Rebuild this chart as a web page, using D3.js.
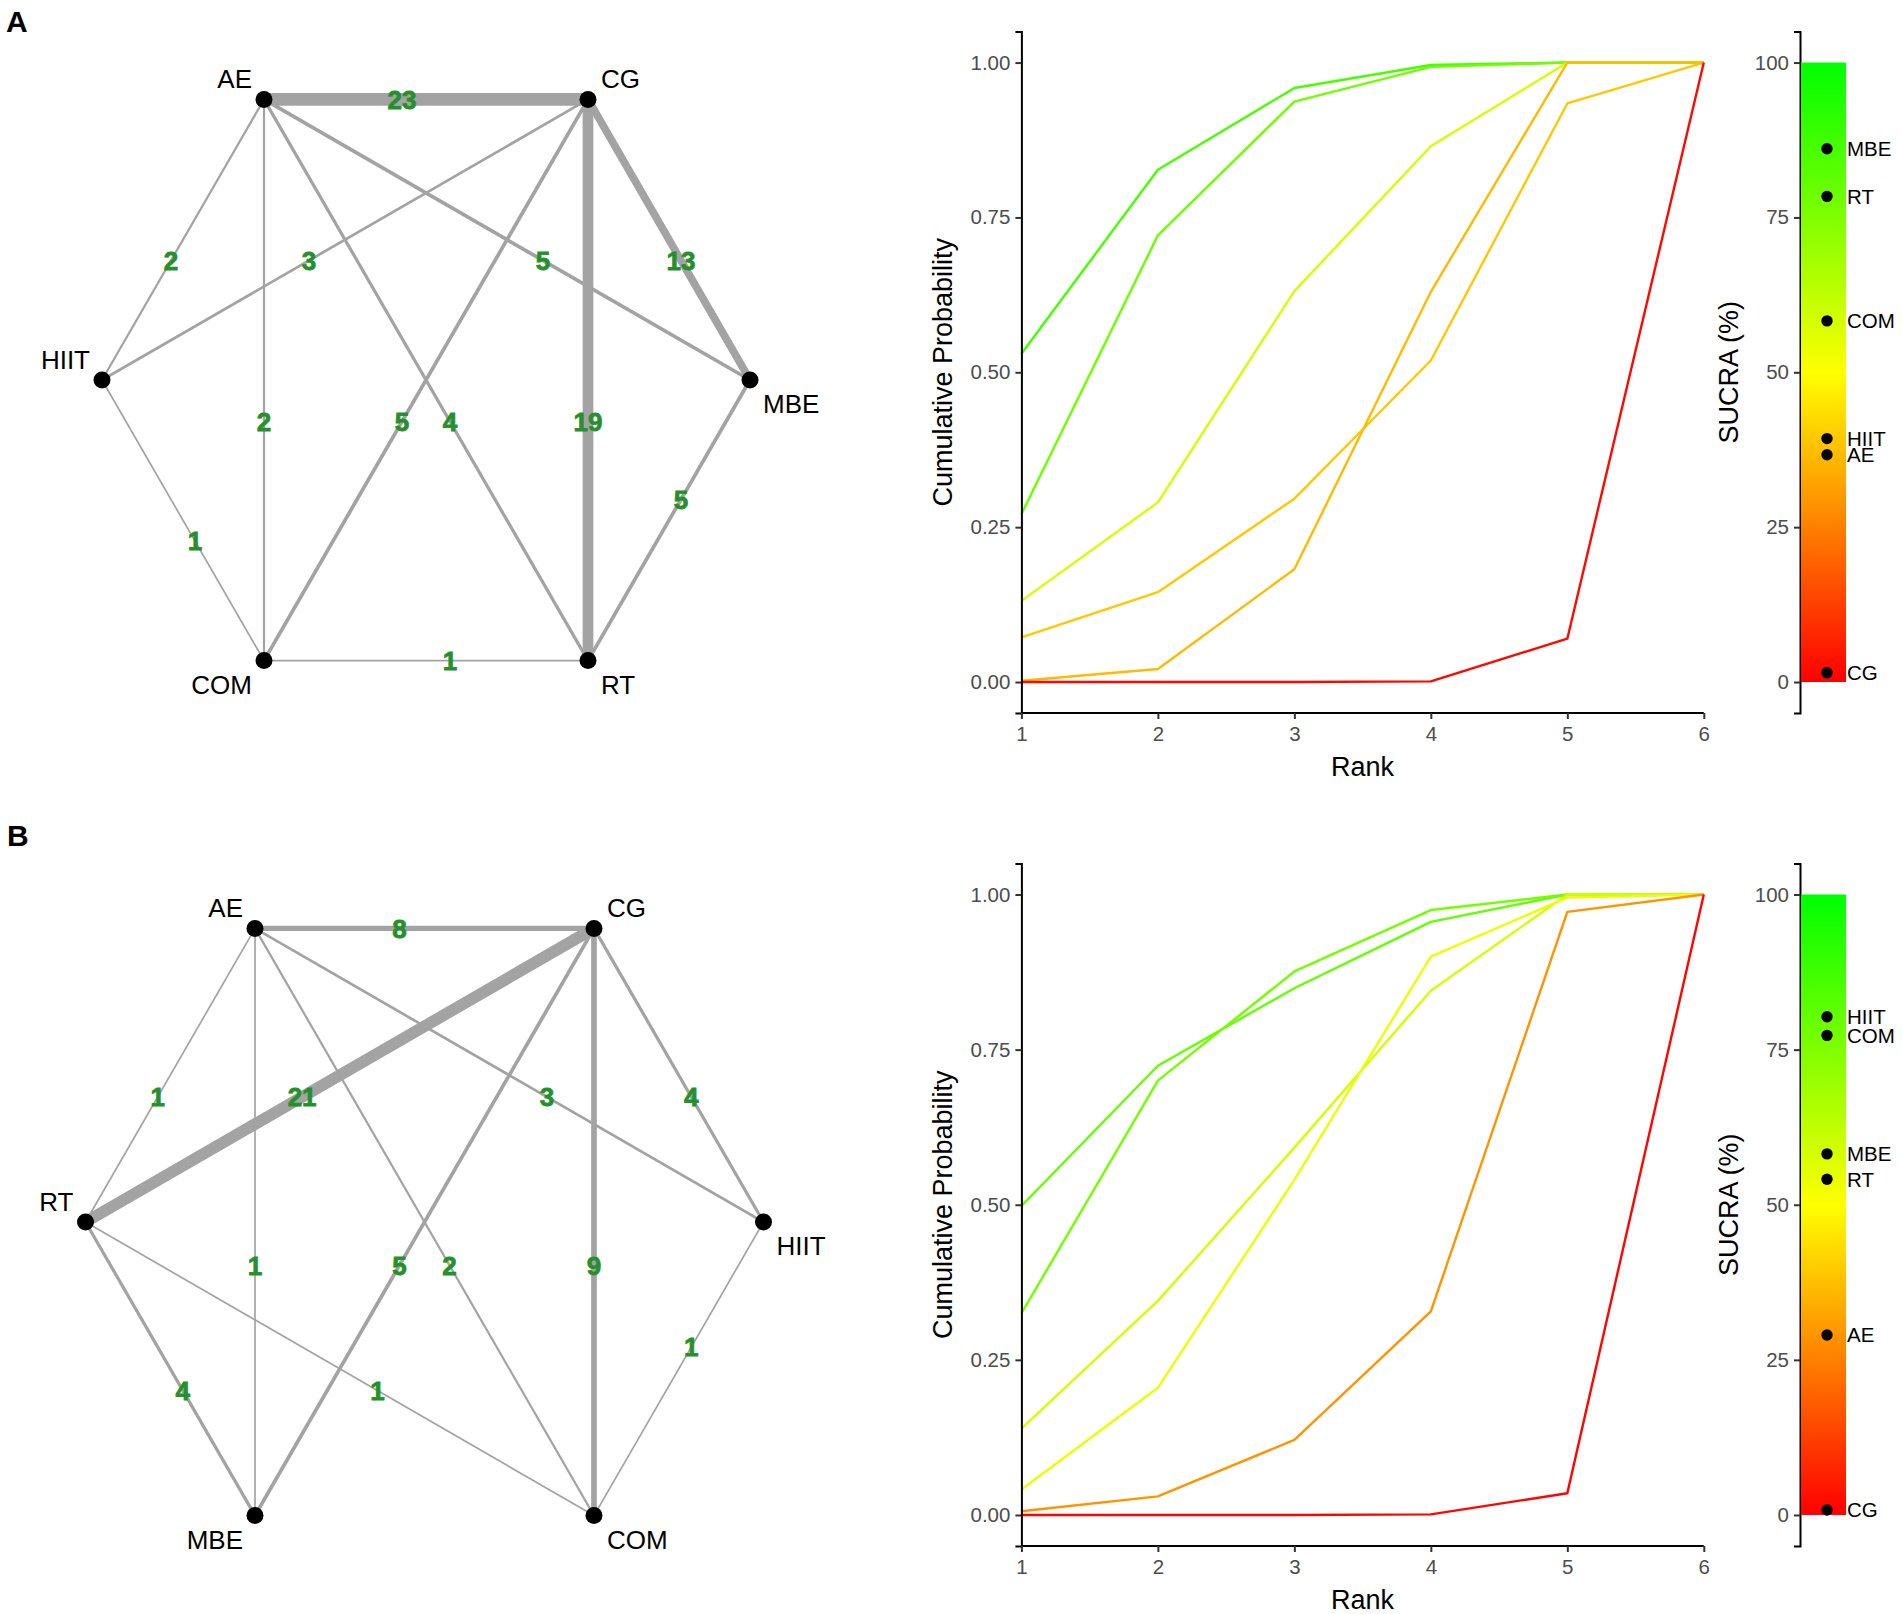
<!DOCTYPE html>
<html>
<head>
<meta charset="utf-8">
<script src="https://cdn.jsdelivr.net/npm/d3@7"></script>
<style>
  body { margin: 0; background: #fff; }
  svg { display: block; font-family: "Liberation Sans", Arial, Helvetica, sans-serif; }
</style>
</head>
<body>
<div id="chart"></div>
<script>
// ---- data ----
const ranks = [1, 2, 3, 4, 5, 6];
const probTicks = [0, 0.25, 0.5, 0.75, 1];
const sucraTicks = [0, 25, 50, 75, 100];

// panel A network (nodes listed clockwise from the top-left corner)
const nodesA = ["AE", "CG", "MBE", "RT", "COM", "HIIT"];
const edgesA = [["CG", "AE"], ["AE", "HIIT"], ["CG", "HIIT"], ["AE", "MBE"], ["CG", "MBE"], ["AE", "COM"],
                ["CG", "COM"], ["AE", "RT"], ["CG", "RT"], ["RT", "MBE"], ["HIIT", "COM"], ["COM", "RT"]];
const studiesA = [23, 2, 3, 5, 13, 2, 5, 4, 19, 5, 1, 1];

// panel B network
const nodesB = ["AE", "CG", "HIIT", "COM", "MBE", "RT"];
const edgesB = [["CG", "AE"], ["AE", "RT"], ["CG", "RT"], ["AE", "HIIT"], ["CG", "HIIT"], ["AE", "MBE"],
                ["CG", "MBE"], ["AE", "COM"], ["CG", "COM"], ["RT", "MBE"], ["RT", "COM"], ["COM", "HIIT"]];
const studiesB = [8, 1, 21, 3, 4, 1, 5, 2, 9, 4, 1, 1];

// panel A ranking
const treatmentsA = ["MBE", "RT", "COM", "HIIT", "AE", "CG"];
const sucraA = [86.1, 78.4, 58.3, 39.3, 36.7, 1.5];
const cumProbA = [
  [0.530, 0.827, 0.959, 0.996, 1, 1],
  [0.271, 0.721, 0.937, 0.993, 1, 1],
  [0.131, 0.290, 0.631, 0.865, 1, 1],
  [0.072, 0.145, 0.296, 0.519, 0.934, 1],
  [0.002, 0.021, 0.182, 0.630, 1, 1],
  [0, 0, 0, 0.001, 0.070, 1]
];

// panel B ranking
const treatmentsB = ["HIIT", "COM", "MBE", "RT", "AE", "CG"];
const sucraB = [80.3, 77.3, 58.2, 54.1, 29.0, 0.8];
const cumProbB = [
  [0.498, 0.724, 0.849, 0.956, 1, 1],
  [0.325, 0.700, 0.876, 0.975, 1, 1],
  [0.139, 0.345, 0.592, 0.845, 1, 1],
  [0.041, 0.205, 0.540, 0.900, 0.995, 1],
  [0.006, 0.030, 0.121, 0.328, 0.972, 1],
  [0, 0, 0, 0.001, 0.035, 1]
];

// ---- drawing ----
const W = 1902, H = 1614;
const svg = d3.select("#chart").append("svg")
  .attr("width", W).attr("height", H);
svg.append("rect").attr("width", W).attr("height", H).attr("fill", "#fff");

const sucraColor = d3.scaleLinear()
  .domain([0, 50, 100])
  .range(["#ff0000", "#ffff00", "#00ff00"]);

const width = d3.scaleLinear().domain([0, 23]).range([1.2, 12.7]);

function drawNetwork(nodes, edges, studies, cx, cy, r) {
  // unit hexagon -> pixels
  const x = d3.scaleLinear().domain([-1, 1]).range([cx - r, cx + r]);
  const y = d3.scaleLinear().domain([-1, 1]).range([cy + r, cy - r]);
  const angles = [120, 60, 0, -60, -120, 180];
  const pos = {};
  nodes.forEach((n, i) => {
    const a = angles[i] * Math.PI / 180;
    pos[n] = { x: x(Math.cos(a)), y: y(Math.sin(a)), i: i };
  });

  const g = svg.append("g");

  g.selectAll(".edge")
    .data(edges)
    .enter().append("line")
    .attr("x1", d => pos[d[0]].x).attr("y1", d => pos[d[0]].y)
    .attr("x2", d => pos[d[1]].x).attr("y2", d => pos[d[1]].y)
    .attr("stroke", "#a3a3a3")
    .attr("stroke-width", (d, i) => width(studies[i]));

  const t = 0.574;
  g.selectAll(".elab")
    .data(edges)
    .enter().append("text")
    .attr("x", d => pos[d[0]].x + t * (pos[d[1]].x - pos[d[0]].x))
    .attr("y", d => pos[d[0]].y + t * (pos[d[1]].y - pos[d[0]].y))
    .attr("dy", "0.36em")
    .attr("text-anchor", "middle")
    .style("font-size", "26px")
    .style("font-weight", "bold")
    .attr("fill", "#25902c")
    .attr("stroke", "#25902c")
    .attr("stroke-width", 0.8)
    .text((d, i) => studies[i]);

  g.selectAll(".node")
    .data(nodes)
    .enter().append("circle")
    .attr("cx", d => pos[d].x).attr("cy", d => pos[d].y)
    .attr("r", 8.5)
    .attr("fill", "#000");

  // label side by corner: left corners -> end anchor, right corners -> start anchor
  const leftSide = [true, false, false, false, true, true];
  const above = [true, true, false, false, false, true];
  g.selectAll(".nlab")
    .data(nodes)
    .enter().append("text")
    .attr("x", d => pos[d].x + (leftSide[pos[d].i] ? -12 : 13))
    .attr("y", d => pos[d].y + (above[pos[d].i] ? -11 : 33))
    .attr("text-anchor", d => leftSide[pos[d].i] ? "end" : "start")
    .style("font-size", "26px")
    .attr("fill", "#000")
    .text(d => d);
}

function drawRanking(treatments, sucra, cumProb, top, bottom, gradId) {
  const left = 1021.4, right = 1703.8, barAxis = 1800;
  const x = d3.scaleLinear().domain([1, 6]).range([left, right]);
  const y = d3.scaleLinear().domain([-0.05, 1.05]).range([bottom, top]);
  const ys = d3.scaleLinear().domain([-5, 105]).range([bottom, top]);
  const g = svg.append("g");

  // lines
  const line = d3.line().x((d, i) => x(ranks[i])).y(d => y(d));
  g.selectAll(".curve")
    .data(cumProb)
    .enter().append("path")
    .attr("d", line)
    .attr("fill", "none")
    .attr("stroke", (d, i) => sucraColor(sucra[i]))
    .attr("stroke-width", 2.4)
    .attr("stroke-linejoin", "round");

  // axes
  const yAxis = g.append("g")
    .attr("transform", `translate(${left},0)`)
    .call(d3.axisLeft(y).tickValues(probTicks).tickFormat(d3.format(".2f")).tickSize(6).tickPadding(5));
  const xAxis = g.append("g")
    .attr("transform", `translate(0,${bottom})`)
    .call(d3.axisBottom(x).tickValues(ranks).tickFormat(d3.format("d")).tickSize(6).tickPadding(7));
  xAxis.select(".domain").attr("d", `M${left},0H${right}`);
  const sAxis = g.append("g")
    .attr("transform", `translate(${barAxis},0)`)
    .call(d3.axisLeft(ys).tickValues(sucraTicks).tickSize(6).tickPadding(5));

  [yAxis, xAxis, sAxis].forEach(a => {
    a.select(".domain").attr("stroke", "#000").attr("stroke-width", 2);
    a.selectAll(".tick line").attr("stroke", "#333").attr("stroke-width", 2);
    a.selectAll(".tick text")
      .attr("fill", "#4d4d4d")
      .style("font-size", "20.5px")
      .style("font-family", "'Liberation Sans', Arial, sans-serif");
  });

  // gradient bar
  const grad = svg.append("defs").append("linearGradient")
    .attr("id", gradId)
    .attr("x1", 0).attr("y1", 1).attr("x2", 0).attr("y2", 0);
  d3.range(0, 101, 10).forEach(v => {
    grad.append("stop").attr("offset", v / 100).attr("stop-color", sucraColor(v));
  });
  g.append("rect")
    .attr("x", barAxis + 1)
    .attr("y", ys(100))
    .attr("width", 45)
    .attr("height", ys(0) - ys(100))
    .attr("fill", `url(#${gradId})`);

  g.selectAll(".sdot")
    .data(sucra)
    .enter().append("circle")
    .attr("cx", barAxis + 27)
    .attr("cy", d => ys(d))
    .attr("r", 5.7)
    .attr("fill", "#000");
  g.selectAll(".slab")
    .data(sucra)
    .enter().append("text")
    .attr("x", barAxis + 47)
    .attr("y", d => ys(d))
    .attr("dy", "0.36em")
    .style("font-size", "20.5px")
    .attr("fill", "#000")
    .text((d, i) => treatments[i]);

  // titles
  const mid = (top + bottom) / 2;
  g.append("text")
    .attr("transform", `translate(952,${mid}) rotate(-90)`)
    .attr("text-anchor", "middle")
    .style("font-size", "27px")
    .text("Cumulative Probability");
  g.append("text")
    .attr("transform", `translate(1738,${mid}) rotate(-90)`)
    .attr("text-anchor", "middle")
    .style("font-size", "27px")
    .text("SUCRA (%)");
  g.append("text")
    .attr("x", (left + right) / 2)
    .attr("y", bottom + 62.5)
    .attr("text-anchor", "middle")
    .style("font-size", "27px")
    .text("Rank");
}

drawNetwork(nodesA, edgesA, studiesA, 426, 380, 324);
drawNetwork(nodesB, edgesB, studiesB, 424.5, 1222, 339);
drawRanking(treatmentsA, sucraA, cumProbA, 31.6, 713, "gradA");
drawRanking(treatmentsB, sucraB, cumProbB, 863.5, 1546, "gradB");

// panel letters
svg.append("text").attr("x", 6).attr("y", 32)
  .style("font-size", "30px").style("font-weight", "bold").text("A");
svg.append("text").attr("x", 7).attr("y", 846)
  .style("font-size", "30px").style("font-weight", "bold").text("B");
</script>
</body>
</html>
